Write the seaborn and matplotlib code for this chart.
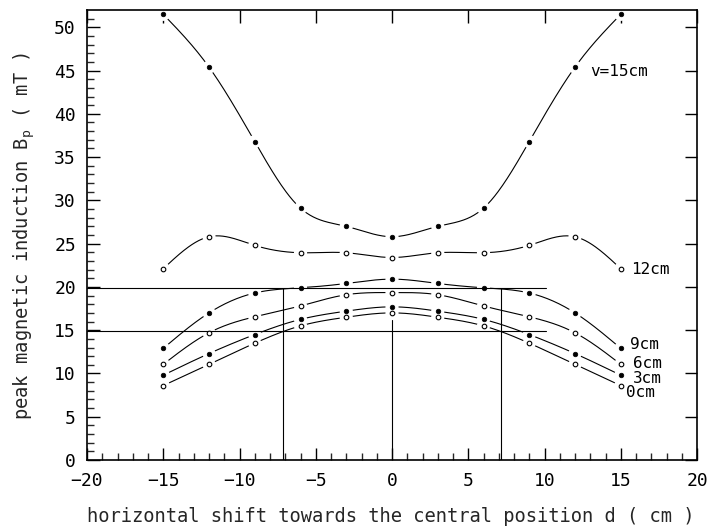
import numpy as np
import pandas as pd
import matplotlib
matplotlib.use("Agg")
import matplotlib.pyplot as plt
import seaborn as sns

# ---- data ----
d = [-15, -12, -9, -6, -3, 0, 3, 6, 9, 12, 15]
v15 = [51.5, 45.4, 36.8, 29.1, 27.0, 25.8, 27.0, 29.1, 36.8, 45.4, 51.5]
v12 = [22.1, 25.8, 24.8, 23.95, 23.95, 23.4, 23.95, 23.95, 24.8, 25.8, 22.1]
v9 = [12.9, 17.0, 19.3, 19.9, 20.4, 20.9, 20.4, 19.9, 19.3, 17.0, 12.9]
v6 = [11.05, 14.7, 16.55, 17.8, 19.1, 19.35, 19.1, 17.8, 16.55, 14.7, 11.05]
v3 = [9.8, 12.3, 14.5, 16.25, 17.2, 17.7, 17.2, 16.25, 14.5, 12.3, 9.8]
v0 = [8.6, 11.05, 13.5, 15.5, 16.5, 17.0, 16.5, 15.5, 13.5, 11.05, 8.6]
series_names = ["v=15cm", "12cm", "9cm", "6cm", "3cm", "0cm"]
series_filled = [True, False, True, False, True, False]
label_x = [12.98, 15.67, 15.6, 15.83, 15.78, 15.34]
label_y = [44.95, 22.0, 13.36, 11.12, 9.43, 7.81]
# reference lines
hlines_y = [19.85, 14.85]
hline_xmax = 10.1
vlines_x = [-7.18, 0.0, 7.18]
vlines_top = [19.85, 16.2, 19.85]

series_vals = [v15, v12, v9, v6, v3, v0]


def natural_spline(x, y, n=400):
    x = np.asarray(x, float)
    y = np.asarray(y, float)
    m = len(x)
    h = np.diff(x)
    A = np.zeros((m, m))
    r = np.zeros(m)
    A[0, 0] = 1
    A[-1, -1] = 1
    for i in range(1, m - 1):
        A[i, i - 1] = h[i - 1]
        A[i, i] = 2 * (h[i - 1] + h[i])
        A[i, i + 1] = h[i]
        r[i] = 3 * ((y[i + 1] - y[i]) / h[i] - (y[i] - y[i - 1]) / h[i - 1])
    c = np.linalg.solve(A, r)
    b = np.zeros(m - 1)
    dd = np.zeros(m - 1)
    for i in range(m - 1):
        b[i] = (y[i + 1] - y[i]) / h[i] - h[i] * (2 * c[i] + c[i + 1]) / 3
        dd[i] = (c[i + 1] - c[i]) / (3 * h[i])
    xs = np.linspace(x[0], x[-1], n)
    idx = np.clip(np.searchsorted(x, xs) - 1, 0, m - 2)
    t = xs - x[idx]
    ys = y[idx] + b[idx] * t + c[idx] * t ** 2 + dd[idx] * t ** 3
    return xs, ys


sns.set_theme(style="ticks")
mono = "DejaVu Sans Mono"
plt.rcParams["font.family"] = [mono, "DejaVu Sans"]
plt.rcParams["mathtext.fontset"] = "custom"
plt.rcParams["mathtext.rm"] = mono
plt.rcParams["mathtext.it"] = mono

fig = plt.figure(figsize=(7.09, 5.31), dpi=100)
ax = fig.add_axes([87 / 709, 71 / 531, 610 / 709, 450 / 531])

rows = []
for name, vals, filled in zip(series_names, series_vals, series_filled):
    for x, y in zip(d, vals):
        rows.append({"d": x, "B": y, "series": name, "filled": filled})
df = pd.DataFrame(rows)

curve_rows = []
for name, vals in zip(series_names, series_vals):
    xs, ys = natural_spline(d, vals)
    for x, y in zip(xs, ys):
        curve_rows.append({"d": x, "B": y, "series": name})
cdf = pd.DataFrame(curve_rows)

# smooth curves
for name in series_names:
    sub = cdf[cdf["series"] == name]
    sns.lineplot(data=sub, x="d", y="B", ax=ax, color="black", lw=0.8,
                 sort=False, estimator=None, zorder=2)

# white halos for gaps (below spines/ticks)
sns.scatterplot(data=df, x="d", y="B", ax=ax, s=90, color="white",
                edgecolor="none", zorder=2.2, legend=False)

# reference lines
for y in hlines_y:
    ax.plot([-20, hline_xmax], [y, y], color="black", lw=0.8, zorder=4)
for x, top in zip(vlines_x, vlines_top):
    ax.plot([x, x], [0, top], color="black", lw=0.8, zorder=4)

# markers
fdf = df[df["filled"]]
odf = df[~df["filled"]]
sns.scatterplot(data=fdf, x="d", y="B", ax=ax, s=11, color="black",
                edgecolor="black", linewidth=0.5, zorder=5, legend=False)
sns.scatterplot(data=odf, x="d", y="B", ax=ax, s=11, color="white",
                edgecolor="black", linewidth=0.8, zorder=5, legend=False)

# labels
for name, lx, ly in zip(series_names, label_x, label_y):
    ax.text(lx, ly, name, fontsize=11.5, ha="left", va="center", color="black")

ax.set_xlim(-20, 20)
ax.set_ylim(0, 52)
ax.set_xlabel("")
ax.set_ylabel("")
ax.set_xticks(np.arange(-20, 21, 5))
ax.set_yticks(np.arange(0, 51, 5))
ax.set_xticks(np.arange(-20, 21, 1), minor=True)
ax.set_yticks(np.arange(0, 52, 1), minor=True)
ax.tick_params(axis="both", which="major", direction="in", length=9, width=1,
               labelsize=13, colors="black")
ax.tick_params(axis="x", which="major", top=True, pad=9)
ax.tick_params(axis="y", which="major", right=True, pad=8)
ax.tick_params(axis="both", which="minor", direction="in", length=5, width=1,
               top=False, right=False)
for sp in ax.spines.values():
    sp.set_visible(True)
    sp.set_linewidth(1.2)
    sp.set_color("black")

fig.text(391 / 709, 1 - 517 / 531,
         "horizontal shift towards the central position d ( cm )",
         ha="center", va="center", fontsize=13.5)
fig.text(24 / 709, 1 - 236 / 531,
         r"peak magnetic induction B$_\mathrm{p}$ ( mT )",
         ha="center", va="center", rotation=90, fontsize=13.5)

fig.savefig("out.png", dpi=100)
